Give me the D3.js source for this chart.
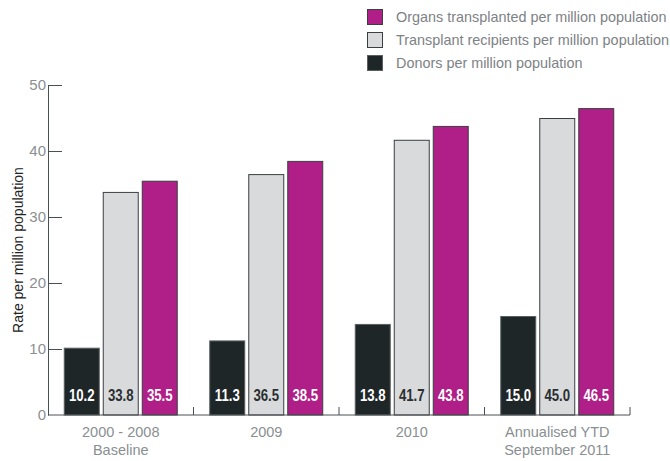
<!DOCTYPE html>
<html lang="en">
<head>
  <meta charset="UTF-8" />
  <title>Organ donation rates</title>
  <script src="https://d3js.org/d3.v7.min.js"></script>
  <style>
    body {
      margin: 0;
      background: #fff;
      font-family: "Liberation Sans", Arial, sans-serif;
    }
    .axis text {
      font-size: 15px;
      fill: #8a8f92;
    }
    .axis path, .axis line {
      stroke: #4a4f52;
    }
  </style>
</head>
<body>
  <svg width="670" height="461"></svg>

  <script>
    const categories = [["2000 - 2008", "Baseline"], ["2009"], ["2010"], ["Annualised YTD", "September 2011"]];
    const seriesNames = ["Donors per million population", "Transplant recipients per million population", "Organs transplanted per million population"];
    const donors = [10.2, 11.3, 13.8, 15.0];
    const recipients = [33.8, 36.5, 41.7, 45.0];
    const organs = [35.5, 38.5, 43.8, 46.5];
    const yTicks = [0, 10, 20, 30, 40, 50];

    const colors = ["#1e2628", "#d9dadc", "#b01e87"];
    const labelColors = ["#ffffff", "#2a2f31", "#ffffff"];
    const strokes = ["#5a5f62", "#3a3f42", "#3a3f42"];

    const svg = d3.select("svg");
    const catKeys = categories.map(c => c.join(" "));
    const values = [donors, recipients, organs];

    const x0 = d3.scaleBand().domain(catKeys).range([48, 630]);
    const x1 = d3.scaleBand().domain(d3.range(3)).range([0, x0.bandwidth()])
      .paddingInner(0.077).paddingOuter(0.404);
    const y = d3.scaleLinear().domain([0, 50]).range([415, 85]);

    // y axis
    svg.append("g")
      .attr("class", "axis")
      .attr("transform", "translate(48,0)")
      .call(d3.axisLeft(y).tickValues(yTicks).tickSizeInner(-14).tickSizeOuter(0).tickPadding(2))
      .call(g => g.selectAll(".tick").filter(d => d === 0).select("line").remove());

    // bars
    const flat = [];
    catKeys.forEach((c, i) => {
      values.forEach((vals, s) => flat.push({ c, s, v: vals[i] }));
    });

    svg.append("g").selectAll("rect")
      .data(flat)
      .join("rect")
      .attr("x", d => x0(d.c) + x1(d.s) + 0.5)
      .attr("y", d => y(d.v) + 0.5)
      .attr("width", x1.bandwidth() - 1)
      .attr("height", d => y(0) - y(d.v) - 0.5)
      .attr("fill", d => colors[d.s])
      .attr("stroke", d => strokes[d.s])
      .attr("stroke-width", 1);

    // value labels, squeezed horizontally to look condensed
    svg.append("g").selectAll("text")
      .data(flat)
      .join("text")
      .attr("transform", d => `translate(${x0(d.c) + x1(d.s) + x1.bandwidth() / 2},${y(0) - 20}) scale(0.8,1)`)
      .attr("dy", "0.36em")
      .attr("text-anchor", "middle")
      .style("font-weight", "bold")
      .style("font-size", "16.5px")
      .attr("fill", d => labelColors[d.s])
      .text(d => d3.format(".1f")(d.v));

    // x axis baseline and separator ticks
    const xa = svg.append("g").attr("class", "axis");
    xa.append("line")
      .attr("x1", 48).attr("x2", 630)
      .attr("y1", y(0)).attr("y2", y(0));
    xa.selectAll("line.sep")
      .data(catKeys)
      .join("line")
      .attr("class", "sep")
      .attr("x1", d => x0(d) + x0.bandwidth())
      .attr("x2", d => x0(d) + x0.bandwidth())
      .attr("y1", y(0)).attr("y2", y(0) - 8);

    const lab = xa.selectAll("text.cat")
      .data(categories)
      .join("text")
      .attr("class", "cat")
      .attr("text-anchor", "middle")
      .style("font-size", "14.5px")
      .attr("transform", (d, i) => `translate(${x0(catKeys[i]) + x0.bandwidth() / 2},${y(0) + 22})`);
    lab.selectAll("tspan")
      .data(d => d)
      .join("tspan")
      .attr("x", 0)
      .attr("dy", (d, i) => i === 0 ? 0 : 18)
      .text(d => d);

    // y title
    svg.append("text")
      .attr("transform", `translate(23,${(y(0) + y(50)) / 2}) rotate(-90)`)
      .attr("text-anchor", "middle")
      .style("font-size", "14px")
      .attr("fill", "#222")
      .text("Rate per million population");

    // legend, organs on top
    const legendOrder = [2, 1, 0];
    const legend = svg.append("g").selectAll("g")
      .data(legendOrder)
      .join("g")
      .attr("transform", (d, i) => `translate(367,${9 + i * 23})`);
    legend.append("rect")
      .attr("x", 0.5).attr("y", 0.5)
      .attr("width", 15).attr("height", 15)
      .attr("fill", d => colors[d])
      .attr("stroke", d => strokes[d]);
    legend.append("text")
      .attr("x", 29)
      .attr("y", 8)
      .attr("dy", "0.35em")
      .style("font-size", "14.4px")
      .attr("fill", "#7d8285")
      .text(d => seriesNames[d]);
  </script>
</body>
</html>
